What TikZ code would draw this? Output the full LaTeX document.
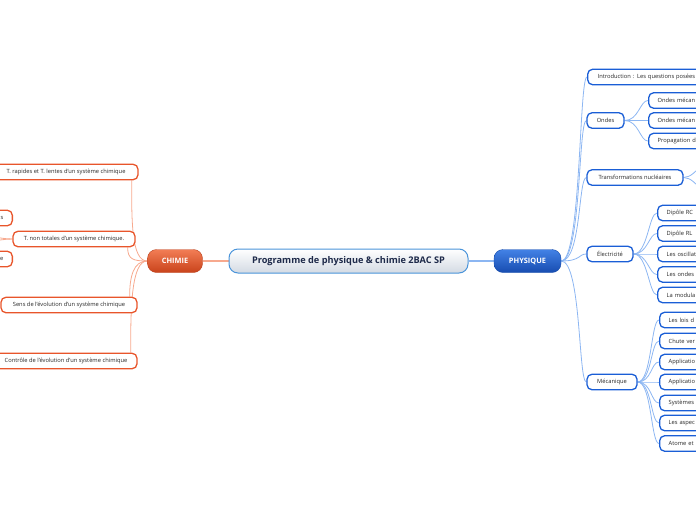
\documentclass[tikz,border=0pt]{standalone}
\usepackage{fontspec}
\setmainfont{Open Sans}
\usetikzlibrary{backgrounds}

\definecolor{chimieorange}{HTML}{E8552B}
\definecolor{chimielight}{HTML}{F7A98E}
\definecolor{chimietop}{HTML}{F27D55}
\definecolor{chimiebot}{HTML}{C9431B}
\definecolor{physblue}{HTML}{1A5ED6}
\definecolor{physlight}{HTML}{8CB6F2}
\definecolor{phystop}{HTML}{4382E6}
\definecolor{physbot}{HTML}{174CB0}
\definecolor{rootline}{HTML}{4A94DA}
\definecolor{rootgray}{HTML}{D3DAE3}
\definecolor{roottext}{HTML}{1E2A4A}
\definecolor{labeltext}{HTML}{262626}

\tikzset{
  topic/.style={draw, line width=1.3pt, rounded corners=5pt, fill=white,
    minimum height=15.5pt, inner ysep=0pt, inner xsep=0pt,
    font=\fontsize{5.75}{6.5}\selectfont, text=labeltext},
  ctopic/.style={topic, draw=chimieorange},
  ptopic/.style={topic, draw=physblue},
  pcut/.style={ptopic, anchor=west, text width=60pt, align=left, inner xsep=9pt},
  ccut/.style={ctopic, anchor=east, text width=60pt, align=right, inner xsep=9pt},
  cline/.style={draw=chimielight, line width=0.8pt},
  pline/.style={draw=physlight, line width=0.8pt},
}

\begin{document}
\begin{tikzpicture}[x=1pt, y=-1pt]
    \useasboundingbox (0,0) rectangle (696,520);
    \clip (0,0) rectangle (696,520);

    % --- Centre ---
    \node[draw=rootline, line width=1pt, rounded corners=9pt, top color=white, bottom color=rootgray,
          minimum width=239pt, minimum height=24pt, inner sep=0pt, text=roottext,
          font=\bfseries\fontsize{9.2}{11}\selectfont] (root) at (348.5,261) {Programme de physique \& chimie 2BAC SP};

    \node[rounded corners=9pt, top color=chimietop, bottom color=chimiebot, draw=chimieorange!80!black, line width=0.4pt,
          minimum width=55pt, minimum height=23pt, inner sep=0pt, text=white,
          font=\bfseries\fontsize{7.4}{9}\selectfont] (chimie) at (175,261) {CHIMIE};

    \node[rounded corners=9pt, top color=phystop, bottom color=physbot, draw=physblue!80!black, line width=0.4pt,
          minimum width=67pt, minimum height=23pt, inner sep=0pt, text=white,
          font=\bfseries\fontsize{7.4}{9}\selectfont] (physique) at (527.5,261) {PHYSIQUE};

    % --- Chimie ---
    \node[ctopic, minimum width=144pt] (c1) at (66,172) {T. rapides et T. lentes d'un système chimique};
    \node[ctopic, minimum width=122pt] (c2) at (74,239) {T. non totales d'un système chimique.};
    \node[ccut] (c2a) at (13,218) {s};
    \node[ccut] (c2b) at (13,259) {e};
    \node[ctopic, minimum width=136pt] (c3) at (69,305) {Sens de l'évolution d'un système chimique};
    \node[ctopic, minimum width=142pt] (c4) at (66,361) {Contrôle de l'évolution d'un système chimique};

    % --- Physique ---
    \node[pcut, text width=110pt, inner xsep=10pt] (p1) at (587,77) {Introduction : Les questions posées};
    \node[ptopic, minimum width=37pt] (p2) at (605.5,120.5) {Ondes};
    \node[pcut] (p21) at (648,100.5) {Ondes mécan};
    \node[pcut] (p22) at (648,120.5) {Ondes mécan};
    \node[pcut] (p23) at (648,141) {Propagation d};
    \node[ptopic, minimum width=96pt] (p3) at (635,177.5) {Transformations nucléaires};
    \coordinate (p31) at (716,150);
    \coordinate (p32) at (716,205);
    \node[ptopic, minimum width=46pt] (p4) at (610,254) {Électricité};
    \node[pcut] (p41) at (657,213) {Dipôle RC};
    \node[pcut] (p42) at (657,233.5) {Dipôle RL};
    \node[pcut] (p43) at (657,254) {Les oscillat};
    \node[pcut] (p44) at (657,274.5) {Les ondes};
    \node[pcut] (p45) at (657,295) {La modula};
    \node[ptopic, minimum width=50pt] (p5) at (612,382) {Mécanique};
    \foreach \n/\y/\t in {1/320/Les lois d, 2/341/Chute ver, 3/362/Applicatio,
                          4/382/Applicatio, 5/403/Systèmes, 6/423/Les aspec, 7/443.5/Atome et}
        \node[pcut] (p6\n) at (659,\y) {\t};

    % --- Connecteurs ---
    \begin{scope}[on background layer]
        \draw[cline, line width=1.2pt] (root.west) -- (chimie.east);
        \draw[pline, line width=1.2pt] (root.east) -- (physique.west);

        \draw[cline] (chimie.west) .. controls +(-16,0) and +(0,40) .. ([xshift=-7pt]c1.south east);
        \draw[cline] (chimie.west) .. controls +(-14,0) and +(0,12) .. ([xshift=-8pt]c2.south east);
        \draw[cline] (chimie.west) .. controls +(-14,0) and +(0,-20) .. ([xshift=-8pt]c3.north east);
        \draw[cline] (chimie.west) .. controls +(-16,0) and +(0,-45) .. ([xshift=-7pt]c4.north east);
        \draw[cline] (c2.west) .. controls +(-30,0) and +(20,0) .. (c2a.west);
        \draw[cline] (c2.west) .. controls +(-30,0) and +(20,0) .. (c2b.west);

        \foreach \c in {p1,p2,p3,p4,p5}
            \draw[pline] (physique.east) .. controls +(20,0) and +(-8,0) .. (\c.west);
        \foreach \c in {p21,p22,p23}
            \draw[pline] (p2.east) .. controls +(14,0) and +(-8,0) .. (\c.west);
        \foreach \c in {p31,p32}
            \draw[pline] (p3.east) .. controls +(14,0) and +(-8,0) .. (\c);
        \foreach \c in {p41,p42,p43,p44,p45}
            \draw[pline] (p4.east) .. controls +(14,0) and +(-8,0) .. (\c.west);
        \foreach \c in {p61,p62,p63,p64,p65,p66,p67}
            \draw[pline] (p5.east) .. controls +(14,0) and +(-8,0) .. (\c.west);
    \end{scope}
\end{tikzpicture}
\end{document}
